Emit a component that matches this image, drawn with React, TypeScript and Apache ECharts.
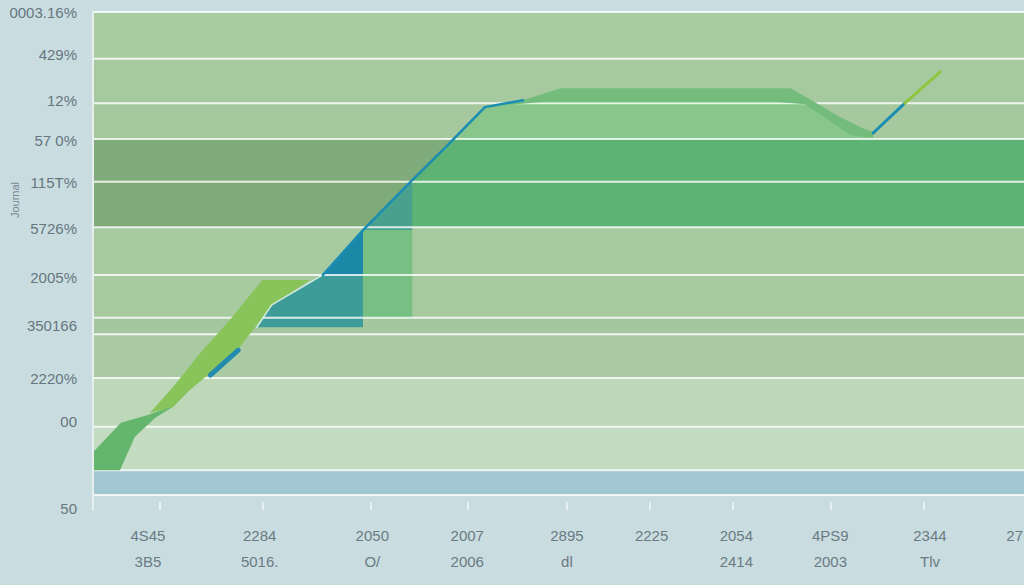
import React, { useEffect, useRef } from "react";
import * as echarts from "echarts";

// ---- axis labels ----
const yLabelValues = [0.4, 17.7, 26.5, 37.1, 46.6, 56.6, 65.7, 74.1, 82.3, 91.4, 100];
const yLabelTexts = ["50", "00", "2220%", "350166", "2005%", "5726%", "115T%", "57 0%", "12%", "429%", "0003.16%"];
const yAxisName = "Journal";

const xTickValues = [7.2, 18.2, 29.8, 40.3, 50.9, 59.8, 68.7, 79.2, 89.2];
const xLabelValues = [5.9, 17.9, 30.0, 40.2, 50.9, 60.0, 69.1, 79.2, 89.9, 99.0];
const xLabelTop = ["4S45", "2284", "2050", "2007", "2895", "2225", "2054", "4PS9", "2344", "27"];
const xLabelBottom = ["3B5", "5016.", "O/", "2006", "dl", "", "2414", "2003", "Tlv", ""];

// ---- horizontal band edges (top to bottom) ----
const gridLines = [100, 90.6, 81.7, 74.5, 65.9, 56.8, 47.2, 38.6, 35.3, 26.5, 16.7, 8.0, 3.0];
const bandColors = [
  "#a9cba2", "#a7c9a0", "#a5c89e", "#80ab7a", "#7fab79", "#a8caa1",
  "#a8caa1", "#a5c79f", "#a9caa3", "#bdd8b9", "#c4ddc2", "#a3c6d3",
];

// ---- shapes (x, y in axis units) ----
const darkRibbon = [[0, 8.0], [0, 11.6], [3.0, 17.5], [5.9, 19.1], [8.9, 21.1], [6.7, 18.5], [4.5, 14.7], [2.9, 8.0]];
const lightRibbon = [[6.1, 19.5], [8.6, 24.7], [11.5, 31.5], [14.7, 38.2], [18.2, 46.2], [23.3, 46.2], [19.3, 41.2], [16.9, 35.5], [15.5, 32.1], [12.6, 27.5], [10.4, 24.1], [8.6, 20.7]];
const tealLower = [[17.6, 36.7], [19.2, 41.2], [24.7, 47.2], [29.0, 47.2], [29.0, 36.7]];
const tealUpper = [[24.7, 47.2], [29.0, 56.2], [29.0, 47.2]];
const mintBlock = [[29.0, 56.2], [34.3, 56.2], [34.3, 38.6], [29.0, 38.6]];
const tealWedge = [[29.0, 56.2], [34.0, 65.7], [34.3, 65.7], [34.3, 56.2]];
const greenBlock = [[34.0, 65.7], [38.7, 74.5], [100, 74.5], [100, 56.8], [34.3, 56.8], [34.3, 65.7]];
const plateauArea = [[38.7, 74.5], [42.1, 80.9], [46.2, 82.3], [50.2, 84.5], [74.9, 84.5], [77.0, 82.5], [80.2, 78.9], [82.6, 76.7], [83.8, 75.7], [83.8, 74.5]];
const plateauRibbon = [[42.1, 80.9], [46.2, 82.3], [50.2, 84.7], [74.9, 84.7], [77.0, 82.5], [80.2, 78.9], [82.6, 76.7], [83.8, 75.9], [83.8, 74.7], [81.3, 75.3], [79.0, 78.3], [76.5, 81.5], [73.8, 81.9], [48.0, 81.9]];

// ---- lines ----
const blueLine = [[24.7, 47.2], [29.0, 56.2], [34.0, 65.7], [37.8, 72.7], [42.1, 80.9], [46.2, 82.3]];
const tealEdge = [[17.6, 36.7], [19.2, 41.2], [24.7, 47.2]];
const blueSliver = [[12.6, 27.1], [15.6, 32.1]];
const blueTick = [[83.8, 75.7], [87.2, 81.7]];
const greenTick = [[87.2, 81.7], [91.0, 88.0]];

const X_MIN = 0;
const X_MAX = 100;
const FONT = "'Liberation Sans', Arial, sans-serif";

function polygonSeries(name: string, pts: number[][], color: string, z: number) {
  return {
    type: "custom",
    name,
    z,
    silent: true,
    data: [[pts[0][0], pts[0][1]]],
    renderItem: (_params: any, api: any) => ({
      type: "polygon",
      shape: { points: pts.map((p) => api.coord(p)) },
      style: { fill: color },
    }),
  };
}

function lineSeries(name: string, pts: number[][], color: string, width: number, z: number) {
  return {
    type: "line",
    name,
    z,
    silent: true,
    data: pts,
    symbol: "none",
    lineStyle: { color, width, cap: "round" },
  };
}

export default function App() {
  const ref = useRef<HTMLDivElement>(null);

  useEffect(() => {
    if (!ref.current) return;
    const chart = echarts.init(ref.current, undefined, { renderer: "svg" });

    const findIdx = (arr: number[], v: number) => arr.findIndex((a) => Math.abs(a - v) < 1e-6);

    const option: any = {
      animation: false,
      backgroundColor: "#c9dde1",
      grid: {
        left: 93,
        right: 0,
        top: 12,
        bottom: 75,
        containLabel: false,
        outerBoundsMode: "none",
      },
      xAxis: {
        type: "value",
        min: X_MIN,
        max: X_MAX,
        axisLine: { show: false },
        splitLine: { show: false },
        axisTick: {
          show: true,
          inside: true,
          length: 8,
          customValues: xTickValues,
          lineStyle: { color: "rgba(255,255,255,0.75)", width: 1.5 },
        },
        axisLabel: {
          customValues: xLabelValues,
          margin: 12,
          color: "#6b7a83",
          fontSize: 15,
          lineHeight: 26,
          fontFamily: FONT,
          hideOverlap: false,
          formatter: (v: number) => {
            const i = findIdx(xLabelValues, v);
            if (i < 0) return "";
            return xLabelBottom[i] ? `${xLabelTop[i]}\n${xLabelBottom[i]}` : xLabelTop[i];
          },
          verticalAlign: "top",
        },
      },
      yAxis: {
        type: "value",
        min: 0,
        max: 100,
        z: 10,
        axisLine: { show: true, lineStyle: { color: "#e6efee", width: 2 } },
        splitLine: { show: false },
        axisTick: { show: false },
        axisLabel: {
          customValues: yLabelValues,
          margin: 16,
          color: "#66757e",
          fontSize: 15,
          fontFamily: FONT,
          formatter: (v: number) => {
            const i = findIdx(yLabelValues, v);
            return i < 0 ? "" : yLabelTexts[i];
          },
        },
      },
      graphic: [
        {
          type: "text",
          x: 15,
          y: 200,
          rotation: Math.PI / 2,
          style: {
            text: yAxisName,
            fill: "#7a8991",
            font: `11px ${FONT}`,
            align: "center",
            verticalAlign: "middle",
            textAlign: "center",
            textVerticalAlign: "middle",
          },
        },
      ],
      series: [
        {
          type: "custom",
          name: "bands",
          z: 1,
          silent: true,
          encode: { x: 0, y: [1, 2] },
          data: bandColors.map((_, i) => [X_MIN, gridLines[i], gridLines[i + 1]]),
          renderItem: (params: any, api: any) => {
            const p1 = api.coord([X_MIN, api.value(1)]);
            const p2 = api.coord([X_MAX, api.value(2)]);
            return {
              type: "rect",
              shape: { x: p1[0], y: p1[1], width: p2[0] - p1[0], height: p2[1] - p1[1] },
              style: { fill: bandColors[params.dataIndex] },
            };
          },
        },
        polygonSeries("greenBlock", greenBlock, "#5db374", 2),
        polygonSeries("plateauArea", plateauArea, "#88c68b", 2),
        polygonSeries("tealLower", tealLower, "#3d9b98", 2),
        polygonSeries("tealUpper", tealUpper, "#1b88a8", 2),
        polygonSeries("mintBlock", mintBlock, "#77bf82", 2),
        polygonSeries("tealWedge", tealWedge, "#4aa08f", 2),
        {
          type: "custom",
          name: "gridLines",
          z: 3,
          silent: true,
          data: gridLines.map((v) => [X_MIN, v]),
          renderItem: (_params: any, api: any) => {
            const p1 = api.coord([X_MIN, api.value(1)]);
            const p2 = api.coord([X_MAX, api.value(1)]);
            return {
              type: "line",
              shape: { x1: p1[0], y1: p1[1], x2: p2[0], y2: p2[1] },
              style: { stroke: "rgba(255,255,255,0.8)", lineWidth: 2 },
            };
          },
        },
        polygonSeries("darkRibbon", darkRibbon, "#64b56e", 4),
        polygonSeries("lightRibbon", lightRibbon, "#88c45a", 4),
        polygonSeries("plateauRibbon", plateauRibbon, "#74bc7c", 4),
        lineSeries("tealEdge", tealEdge, "rgba(225,242,238,0.85)", 1.5, 5),
        lineSeries("blueSliver", blueSliver, "#238cae", 5, 5),
        lineSeries("blueLine", blueLine, "#1b8db3", 2.5, 5),
        lineSeries("blueTick", blueTick, "#1b8db3", 3, 5),
        lineSeries("greenTick", greenTick, "#8dc63f", 3, 5),
      ],
    };

    chart.setOption(option);
    return () => chart.dispose();
  }, []);

  return (
    <div
      ref={ref}
      style={{ position: "fixed", left: 0, top: 0, width: "1024px", height: "585px" }}
    />
  );
}
